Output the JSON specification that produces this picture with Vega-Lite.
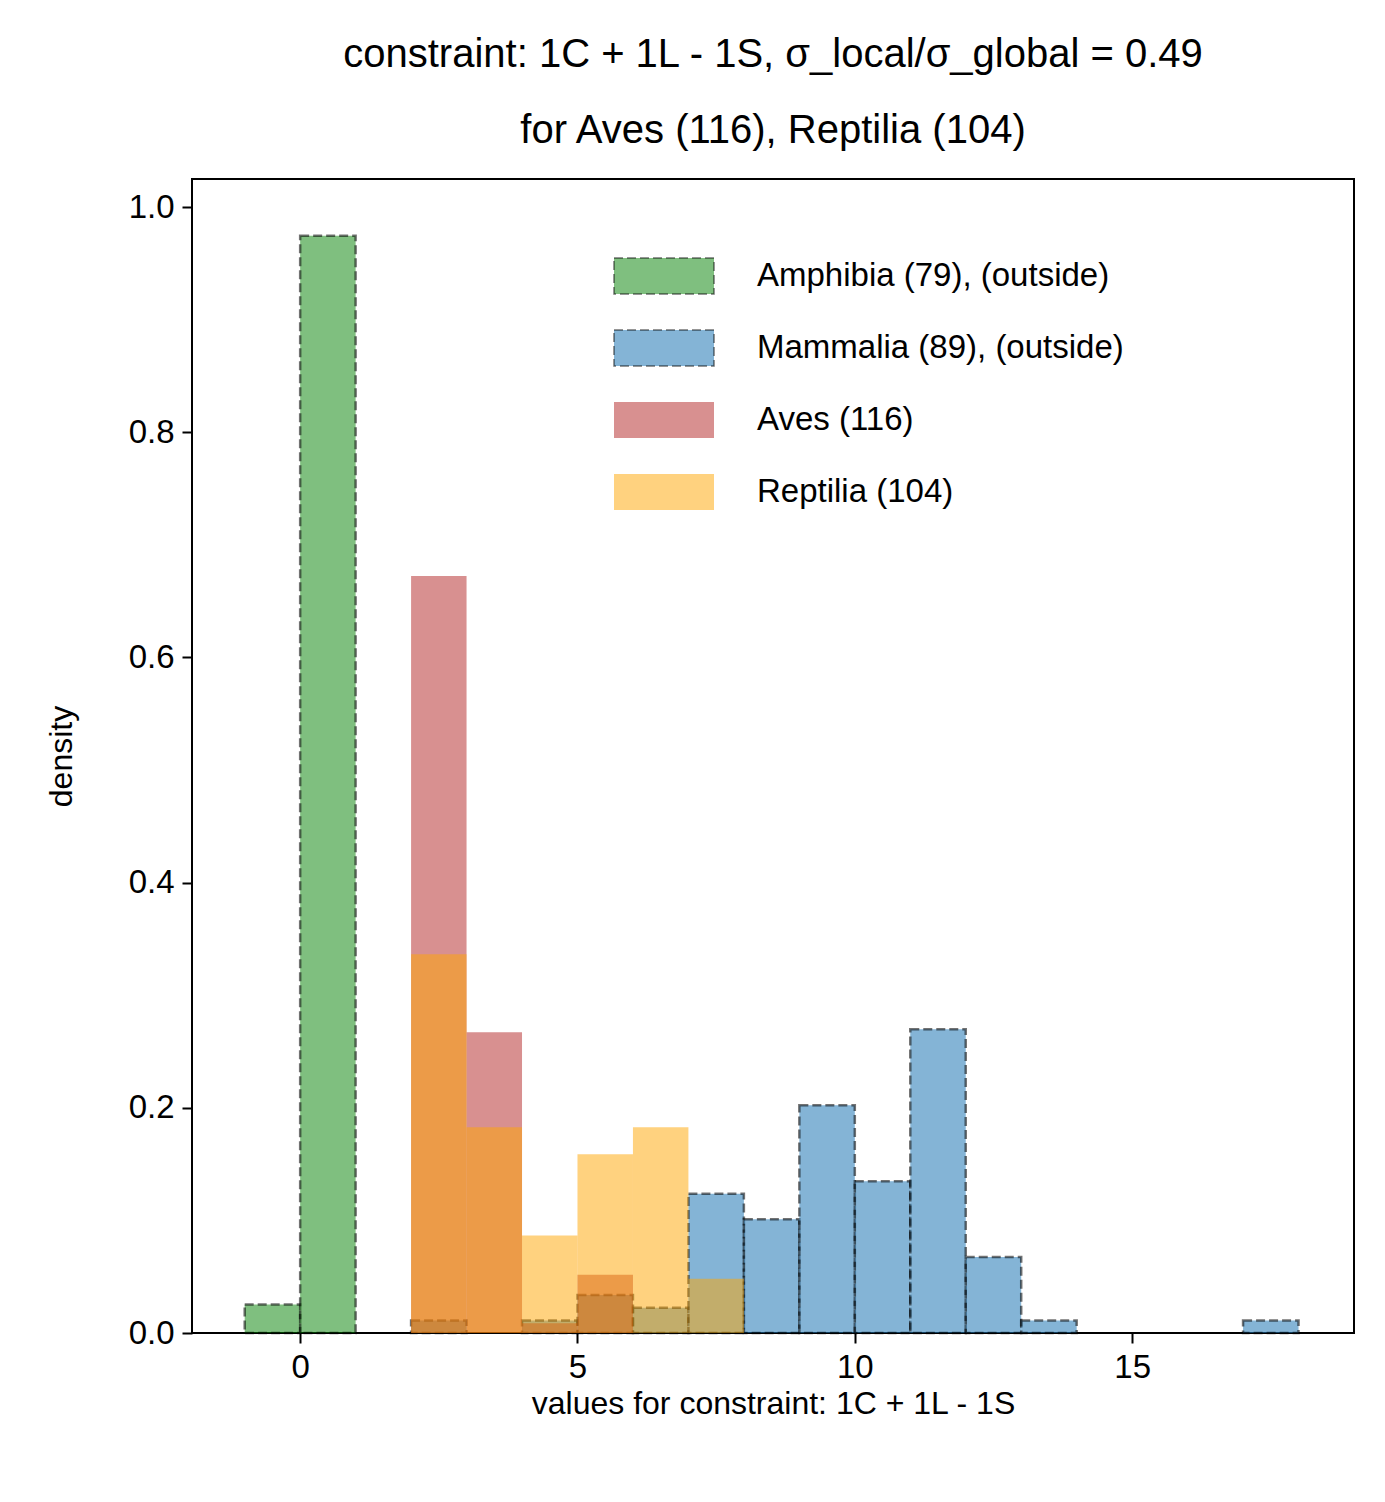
{
  "$schema": "https://vega.github.io/schema/vega-lite/v6.json",
  "autosize": {"type": "none"},
  "padding": {"left": 192, "top": 179, "right": 31, "bottom": 169},
  "width": 1162,
  "height": 1154,
  "config": {
    "font": "Liberation Sans",
    "view": {"stroke": "black", "strokeWidth": 2},
    "axis": {"grid": false, "domain": false, "tickColor": "black", "tickSize": 10, "tickWidth": 2,
             "labelFontSize": 33, "labelColor": "black", "titleFontSize": 32, "titleFontWeight": "normal",
             "titleColor": "black", "labelPadding": 8}
  },
  "title": {
    "text": ["constraint: 1C + 1L - 1S, σ_local/σ_global =  0.49", "for Aves (116), Reptilia (104)"],
    "fontSize": 40, "fontWeight": "normal", "color": "black", "offset": 28, "lineHeight": 76
  },
  "data": {"values": [
    {"series": "Amphibia (79), (outside)", "x0": -1, "x1": 0, "density": 0.0253},
    {"series": "Amphibia (79), (outside)", "x0": 0, "x1": 1, "density": 0.9747},
    {"series": "Mammalia (89), (outside)", "x0": 2, "x1": 3, "density": 0.0112},
    {"series": "Mammalia (89), (outside)", "x0": 4, "x1": 5, "density": 0.0112},
    {"series": "Mammalia (89), (outside)", "x0": 5, "x1": 6, "density": 0.0337},
    {"series": "Mammalia (89), (outside)", "x0": 6, "x1": 7, "density": 0.0225},
    {"series": "Mammalia (89), (outside)", "x0": 7, "x1": 8, "density": 0.1236},
    {"series": "Mammalia (89), (outside)", "x0": 8, "x1": 9, "density": 0.1011},
    {"series": "Mammalia (89), (outside)", "x0": 9, "x1": 10, "density": 0.2022},
    {"series": "Mammalia (89), (outside)", "x0": 10, "x1": 11, "density": 0.1348},
    {"series": "Mammalia (89), (outside)", "x0": 11, "x1": 12, "density": 0.2697},
    {"series": "Mammalia (89), (outside)", "x0": 12, "x1": 13, "density": 0.0674},
    {"series": "Mammalia (89), (outside)", "x0": 13, "x1": 14, "density": 0.0112},
    {"series": "Mammalia (89), (outside)", "x0": 17, "x1": 18, "density": 0.0112},
    {"series": "Aves (116)", "x0": 2, "x1": 3, "density": 0.6724},
    {"series": "Aves (116)", "x0": 3, "x1": 4, "density": 0.2672},
    {"series": "Aves (116)", "x0": 4, "x1": 5, "density": 0.0086},
    {"series": "Aves (116)", "x0": 5, "x1": 6, "density": 0.0517},
    {"series": "Reptilia (104)", "x0": 2, "x1": 3, "density": 0.3365},
    {"series": "Reptilia (104)", "x0": 3, "x1": 4, "density": 0.1827},
    {"series": "Reptilia (104)", "x0": 4, "x1": 5, "density": 0.0865},
    {"series": "Reptilia (104)", "x0": 5, "x1": 6, "density": 0.1587},
    {"series": "Reptilia (104)", "x0": 6, "x1": 7, "density": 0.1827},
    {"series": "Reptilia (104)", "x0": 7, "x1": 8, "density": 0.0481}
  ]},
  "mark": {"type": "bar", "strokeWidth": 2.5},
  "encoding": {
    "x": {"field": "x0", "type": "quantitative", "scale": {"domain": [-1.95, 19.0], "nice": false, "zero": false},
          "axis": {"values": [0, 5, 10, 15]}, "title": "values for constraint: 1C + 1L - 1S"},
    "x2": {"field": "x1"},
    "y": {"field": "density", "type": "quantitative", "stack": null, "scale": {"domain": [0, 1.025], "nice": false},
          "axis": {"values": [0, 0.2, 0.4, 0.6, 0.8, 1.0], "format": ".1f", "titlePadding": 50}, "title": "density"},
    "y2": {"datum": 0},
    "fill": {"field": "series", "type": "nominal", "title": null, "sort": null,
      "scale": {"domain": ["Amphibia (79), (outside)", "Mammalia (89), (outside)", "Aves (116)", "Reptilia (104)"],
                "range": ["rgba(0,128,0,0.5)", "rgba(31,119,180,0.55)", "rgba(178,34,34,0.5)", "rgba(255,165,0,0.5)"]},
      "legend": {"orient": "none", "legendX": 421, "legendY": 46, "labelFontSize": 33, "labelColor": "black", "labelLimit": 0,
                 "symbolType": "M-1,-0.36H1V0.36H-1Z", "symbolSize": 10000, "rowPadding": -27, "labelOffset": 42}},
    "stroke": {"field": "series", "type": "nominal", "title": null, "sort": null,
      "scale": {"domain": ["Amphibia (79), (outside)", "Mammalia (89), (outside)", "Aves (116)", "Reptilia (104)"],
                "range": ["rgba(0,0,0,0.55)", "rgba(0,0,0,0.55)", "rgba(0,0,0,0)", "rgba(0,0,0,0)"]}},
    "strokeDash": {"field": "series", "type": "nominal", "title": null, "sort": null,
      "scale": {"domain": ["Amphibia (79), (outside)", "Mammalia (89), (outside)", "Aves (116)", "Reptilia (104)"],
                "range": [[9, 4], [9, 4], [1, 0], [1, 0]]}}
  }
}
